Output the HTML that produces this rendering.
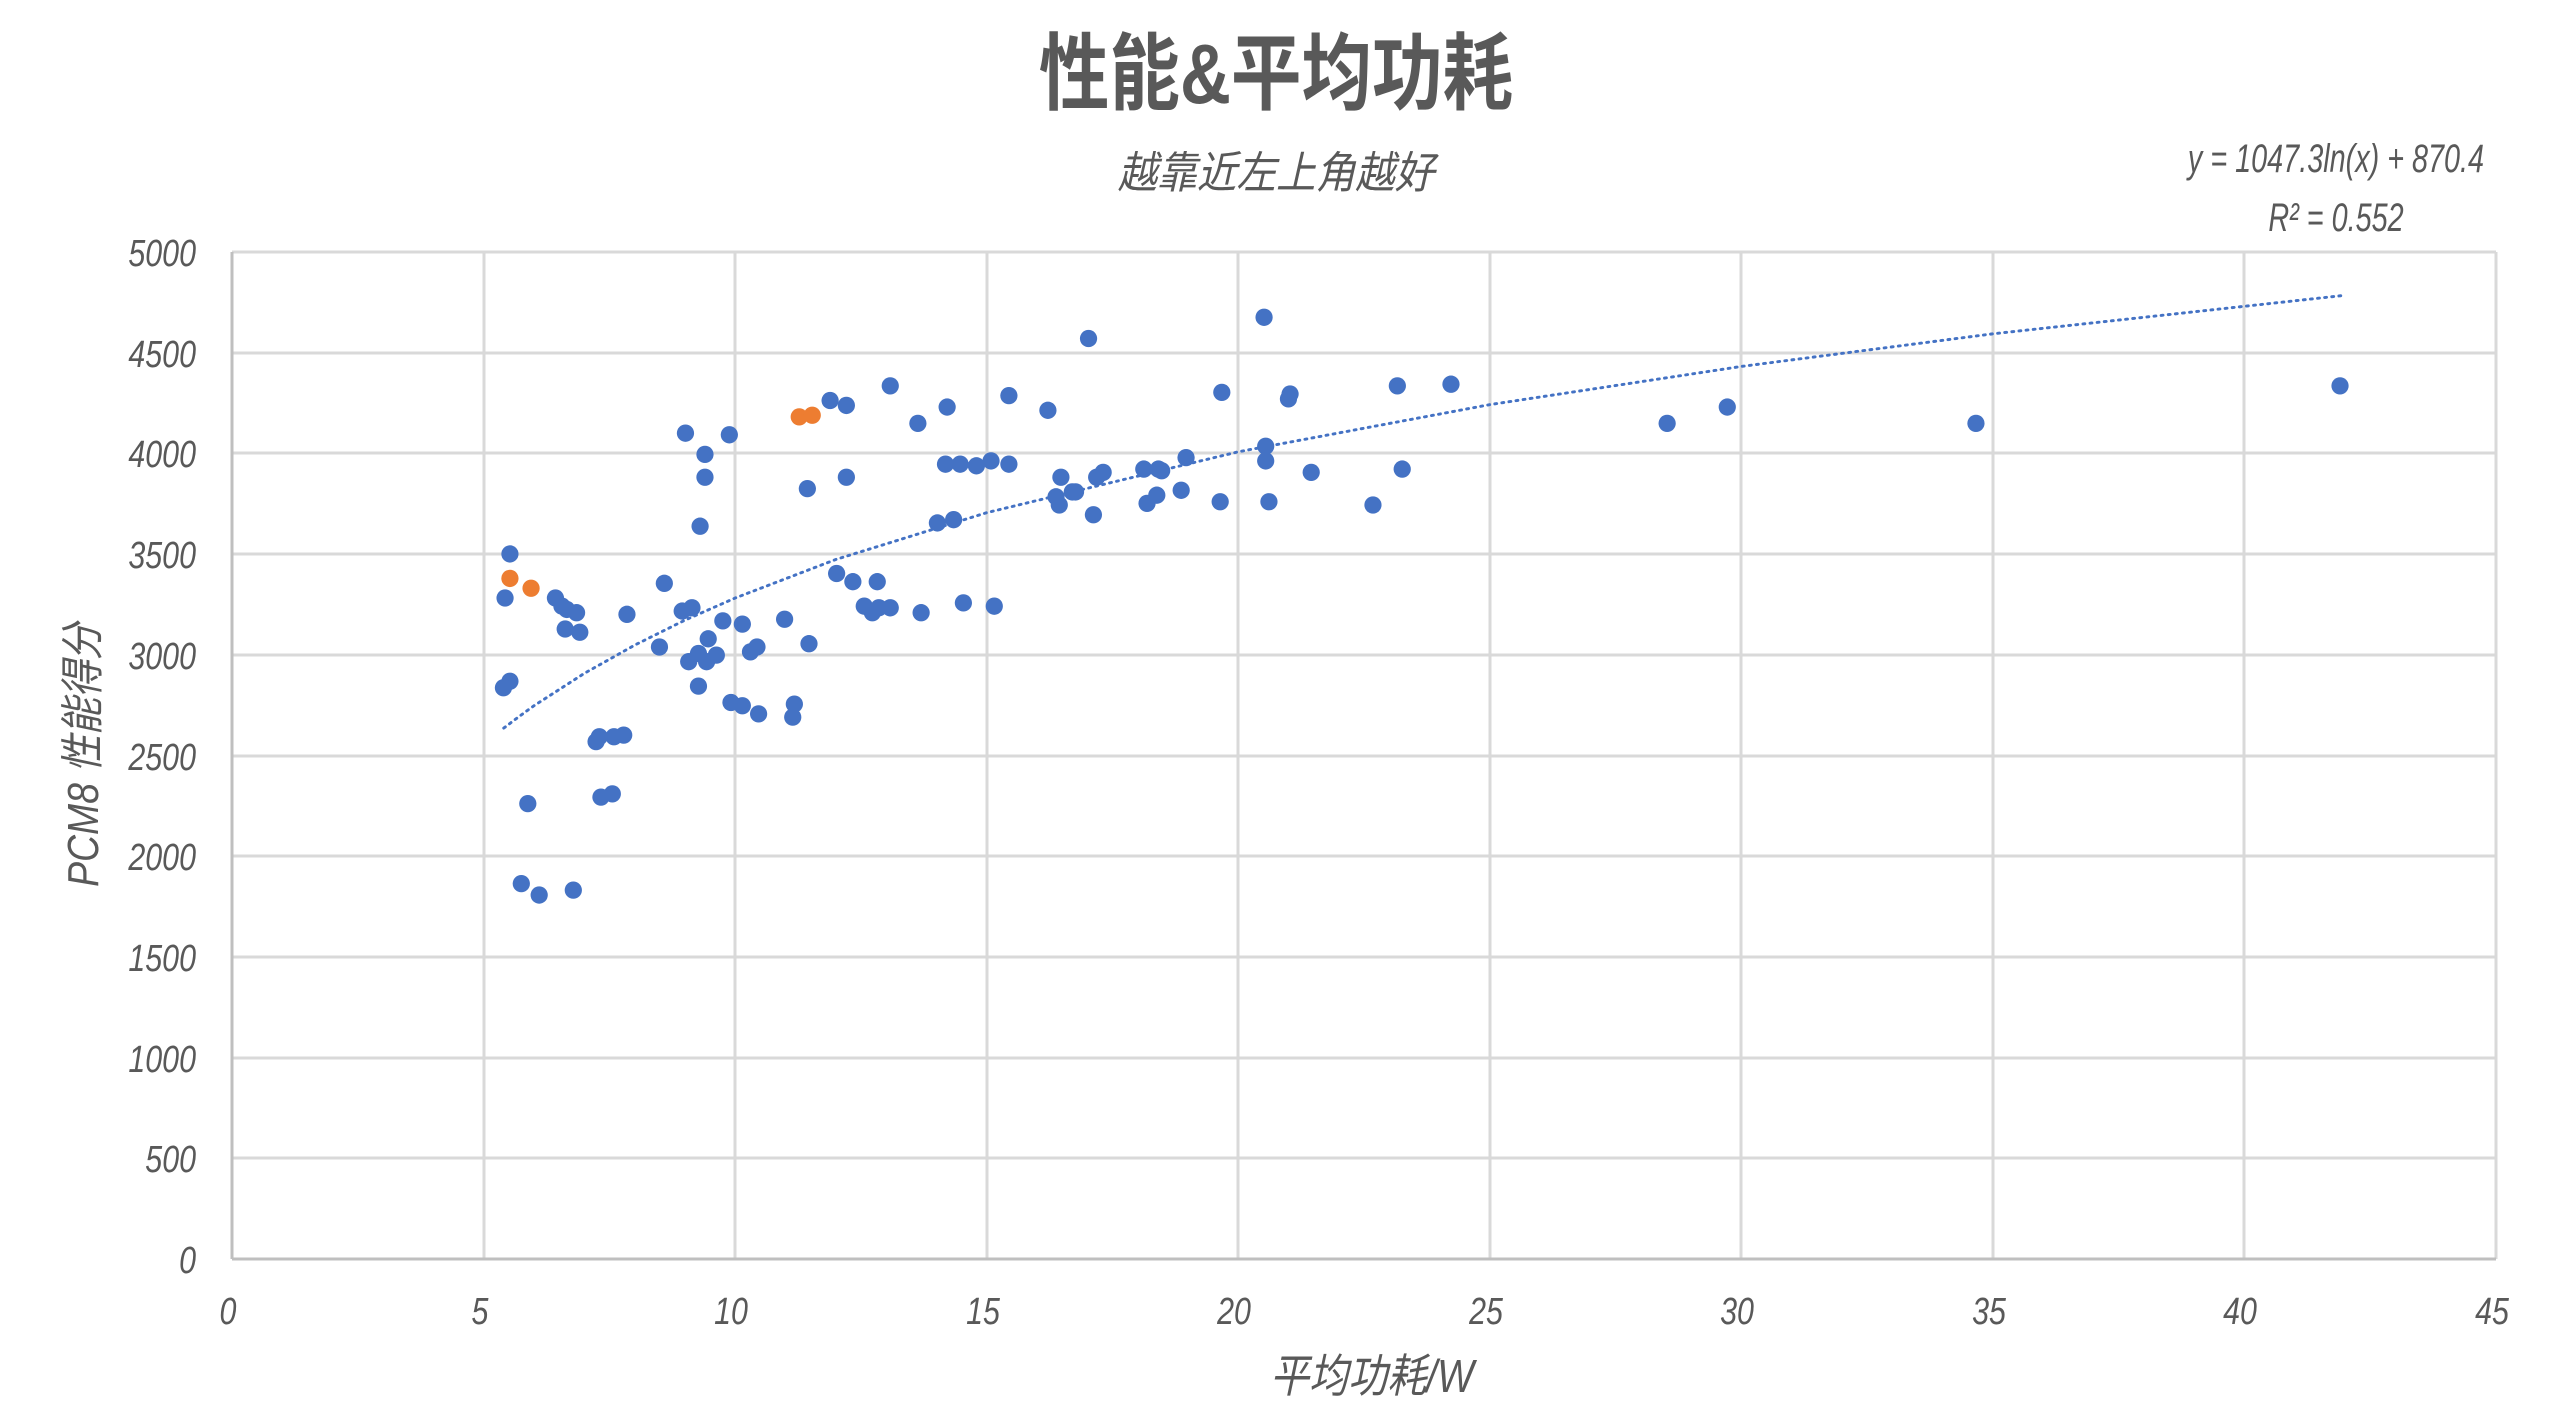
<!DOCTYPE html>
<html><head><meta charset="utf-8"><style>
html,body{margin:0;padding:0;background:#fff;}
svg{display:block;}
text{font-family:"Liberation Sans","Noto Sans CJK SC",sans-serif;fill:#595959;}
</style></head><body>
<svg width="2549" height="1416" viewBox="0 0 2549 1416" xmlns="http://www.w3.org/2000/svg">
<rect width="2549" height="1416" fill="#fff"/>
<text x="1276" y="103" font-size="84" font-weight="bold" text-anchor="middle" transform="translate(1276 0) scale(0.84 1) translate(-1276 0)" style="font-weight:600">性能&amp;平均功耗</text>
<text x="1276" y="188" font-size="44" font-style="italic" text-anchor="middle" transform="translate(1276 0) scale(0.9 1) translate(-1276 0)">越靠近左上角越好</text>
<text x="2336" y="172" font-size="40" font-style="italic" text-anchor="middle" transform="translate(2336 0) scale(0.72 1) translate(-2336 0)">y = 1047.3ln(x) + 870.4</text>
<text x="2336" y="231" font-size="40" font-style="italic" text-anchor="middle" transform="translate(2336 0) scale(0.72 1) translate(-2336 0)">R² = 0.552</text>
<g stroke="#d9d9d9" stroke-width="3" fill="none">
<line x1="232" y1="252" x2="2496" y2="252"/>
<line x1="232" y1="353" x2="2496" y2="353"/>
<line x1="232" y1="453" x2="2496" y2="453"/>
<line x1="232" y1="554" x2="2496" y2="554"/>
<line x1="232" y1="655" x2="2496" y2="655"/>
<line x1="232" y1="756" x2="2496" y2="756"/>
<line x1="232" y1="856" x2="2496" y2="856"/>
<line x1="232" y1="957" x2="2496" y2="957"/>
<line x1="232" y1="1058" x2="2496" y2="1058"/>
<line x1="232" y1="1158" x2="2496" y2="1158"/>
<line x1="484" y1="252" x2="484" y2="1259"/>
<line x1="735" y1="252" x2="735" y2="1259"/>
<line x1="987" y1="252" x2="987" y2="1259"/>
<line x1="1238" y1="252" x2="1238" y2="1259"/>
<line x1="1490" y1="252" x2="1490" y2="1259"/>
<line x1="1741" y1="252" x2="1741" y2="1259"/>
<line x1="1993" y1="252" x2="1993" y2="1259"/>
<line x1="2244" y1="252" x2="2244" y2="1259"/>
<line x1="2496" y1="252" x2="2496" y2="1259"/>
</g>
<line x1="232" y1="252" x2="232" y2="1259" stroke="#bfbfbf" stroke-width="3"/>
<line x1="232" y1="1259" x2="2496" y2="1259" stroke="#bfbfbf" stroke-width="3"/>
<g font-size="38" font-style="italic" text-anchor="end" transform="translate(196 0) scale(0.8 1) translate(-196 0)">
<text x="196" y="266">5000</text><text x="196" y="367">4500</text><text x="196" y="467">4000</text>
<text x="196" y="568">3500</text><text x="196" y="669">3000</text><text x="196" y="770">2500</text>
<text x="196" y="870">2000</text><text x="196" y="971">1500</text><text x="196" y="1072">1000</text>
<text x="196" y="1172">500</text><text x="196" y="1273">0</text>
</g>
<g font-size="38" font-style="italic" text-anchor="middle">
<text x="228" y="1324" transform="translate(228 0) scale(0.8 1) translate(-228 0)">0</text>
<text x="480" y="1324" transform="translate(480 0) scale(0.8 1) translate(-480 0)">5</text>
<text x="731" y="1324" transform="translate(731 0) scale(0.8 1) translate(-731 0)">10</text>
<text x="983" y="1324" transform="translate(983 0) scale(0.8 1) translate(-983 0)">15</text>
<text x="1234" y="1324" transform="translate(1234 0) scale(0.8 1) translate(-1234 0)">20</text>
<text x="1486" y="1324" transform="translate(1486 0) scale(0.8 1) translate(-1486 0)">25</text>
<text x="1737" y="1324" transform="translate(1737 0) scale(0.8 1) translate(-1737 0)">30</text>
<text x="1989" y="1324" transform="translate(1989 0) scale(0.8 1) translate(-1989 0)">35</text>
<text x="2240" y="1324" transform="translate(2240 0) scale(0.8 1) translate(-2240 0)">40</text>
<text x="2492" y="1324" transform="translate(2492 0) scale(0.8 1) translate(-2492 0)">45</text>
</g>
<text x="1372" y="1392" font-size="46" font-style="italic" text-anchor="middle" transform="translate(1372 0) scale(0.85 1) translate(-1372 0)">平均功耗/W</text>
<text x="0" y="0" font-size="44" font-style="italic" text-anchor="middle" transform="translate(98 755) rotate(-90) scale(0.85 1)">PCM8 性能得分</text>
<g transform="matrix(1.6253 0 0 1.6321 1.21 -0.97)">
<polyline fill="none" stroke="#4472c4" stroke-width="1.8" stroke-dasharray="1.2 3.2" stroke-linecap="round" points="309.2,446.7 318.5,439.7 327.8,433 358.7,413.2 389.7,395.9 420.6,380.6 451.6,367 513.5,343.4 606.4,314.7 761.2,277.4 916,248.5 1070.8,225.1 1225.6,205.1 1442.3,181.5"/>
<g fill="#4472c4">
<circle cx="313" cy="340" r="5.3"/><circle cx="310" cy="367" r="5.3"/><circle cx="313" cy="418" r="5.3"/><circle cx="309" cy="422" r="5.3"/><circle cx="324" cy="493" r="5.3"/><circle cx="320" cy="542" r="5.3"/><circle cx="331" cy="549" r="5.3"/><circle cx="352" cy="546" r="5.3"/>
<circle cx="341" cy="367" r="5.3"/><circle cx="345" cy="372" r="5.3"/><circle cx="348" cy="374" r="5.3"/><circle cx="354" cy="376" r="5.3"/><circle cx="347" cy="386" r="5.3"/><circle cx="356" cy="388" r="5.3"/><circle cx="385" cy="377" r="5.3"/>
<circle cx="366" cy="455" r="5.3"/><circle cx="368" cy="452" r="5.3"/><circle cx="377" cy="452" r="5.3"/><circle cx="383" cy="451" r="5.3"/><circle cx="369" cy="489" r="5.3"/><circle cx="376" cy="487" r="5.3"/>
<circle cx="408" cy="358" r="5.3"/><circle cx="405" cy="397" r="5.3"/><circle cx="421" cy="266" r="5.3"/><circle cx="433" cy="279" r="5.3"/><circle cx="433" cy="293" r="5.3"/><circle cx="430" cy="323" r="5.3"/><circle cx="448" cy="267" r="5.3"/>
<circle cx="419" cy="375" r="5.3"/><circle cx="425" cy="373" r="5.3"/><circle cx="423" cy="406" r="5.3"/><circle cx="429" cy="401" r="5.3"/><circle cx="429" cy="421" r="5.3"/><circle cx="435" cy="392" r="5.3"/><circle cx="434" cy="406" r="5.3"/><circle cx="440" cy="402" r="5.3"/><circle cx="444" cy="381" r="5.3"/><circle cx="456" cy="383" r="5.3"/><circle cx="449" cy="431" r="5.3"/><circle cx="456" cy="433" r="5.3"/><circle cx="461" cy="400" r="5.3"/><circle cx="465" cy="397" r="5.3"/><circle cx="466" cy="438" r="5.3"/><circle cx="482" cy="380" r="5.3"/><circle cx="488" cy="432" r="5.3"/><circle cx="487" cy="440" r="5.3"/><circle cx="497" cy="395" r="5.3"/><circle cx="496" cy="300" r="5.3"/>
<circle cx="510" cy="246" r="5.3"/><circle cx="520" cy="249" r="5.3"/><circle cx="520" cy="293" r="5.3"/><circle cx="514" cy="352" r="5.3"/><circle cx="524" cy="357" r="5.3"/><circle cx="531" cy="372" r="5.3"/><circle cx="536" cy="376" r="5.3"/><circle cx="540" cy="373" r="5.3"/><circle cx="539" cy="357" r="5.3"/><circle cx="547" cy="373" r="5.3"/><circle cx="547" cy="237" r="5.3"/><circle cx="564" cy="260" r="5.3"/><circle cx="566" cy="376" r="5.3"/><circle cx="576" cy="321" r="5.3"/><circle cx="586" cy="319" r="5.3"/><circle cx="582" cy="250" r="5.3"/><circle cx="581" cy="285" r="5.3"/><circle cx="590" cy="285" r="5.3"/><circle cx="592" cy="370" r="5.3"/><circle cx="600" cy="286" r="5.3"/><circle cx="609" cy="283" r="5.3"/><circle cx="611" cy="372" r="5.3"/><circle cx="620" cy="243" r="5.3"/><circle cx="620" cy="285" r="5.3"/>
<circle cx="644" cy="252" r="5.3"/><circle cx="649" cy="305" r="5.3"/><circle cx="652" cy="293" r="5.3"/><circle cx="651" cy="310" r="5.3"/><circle cx="659" cy="302" r="5.3"/><circle cx="661" cy="302" r="5.3"/><circle cx="669" cy="208" r="5.3"/><circle cx="672" cy="316" r="5.3"/><circle cx="674" cy="293" r="5.3"/><circle cx="678" cy="290" r="5.3"/><circle cx="703" cy="288" r="5.3"/><circle cx="705" cy="309" r="5.3"/><circle cx="712" cy="288" r="5.3"/><circle cx="711" cy="304" r="5.3"/><circle cx="714" cy="289" r="5.3"/><circle cx="726" cy="301" r="5.3"/><circle cx="729" cy="281" r="5.3"/><circle cx="751" cy="241" r="5.3"/><circle cx="750" cy="308" r="5.3"/>
<circle cx="777" cy="195" r="5.3"/><circle cx="778" cy="274" r="5.3"/><circle cx="778" cy="283" r="5.3"/><circle cx="780" cy="308" r="5.3"/><circle cx="792" cy="245" r="5.3"/><circle cx="793" cy="242" r="5.3"/><circle cx="806" cy="290" r="5.3"/><circle cx="844" cy="310" r="5.3"/><circle cx="859" cy="237" r="5.3"/><circle cx="862" cy="288" r="5.3"/><circle cx="892" cy="236" r="5.3"/><circle cx="1025" cy="260" r="5.3"/><circle cx="1062" cy="250" r="5.3"/><circle cx="1215" cy="260" r="5.3"/><circle cx="1439" cy="237" r="5.3"/>
</g>
<g fill="#ed7d31">
<circle cx="313" cy="355" r="5.3"/><circle cx="326" cy="361" r="5.3"/><circle cx="491" cy="256" r="5.3"/><circle cx="499" cy="255" r="5.3"/>
</g>
</g>
</svg>
</body></html>
